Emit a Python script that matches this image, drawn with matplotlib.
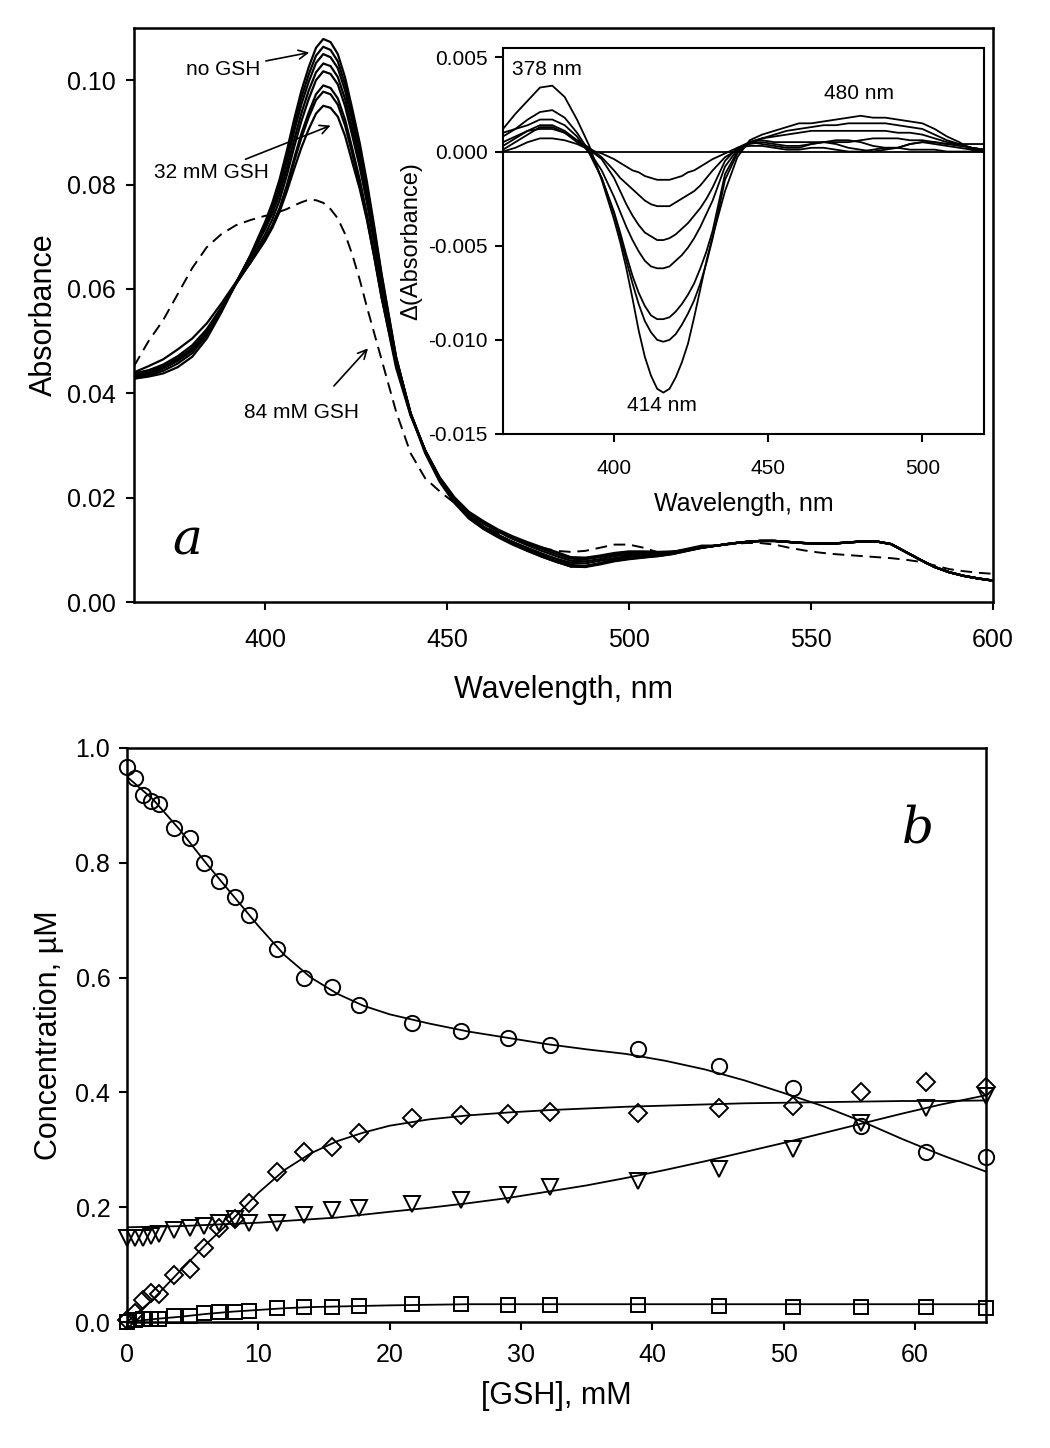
import numpy as np
import matplotlib
matplotlib.use("Agg")
import matplotlib.pyplot as plt
from matplotlib.ticker import FormatStrFormatter

plt.rcParams['font.family'] = ['Liberation Sans', 'DejaVu Sans']

# ---- panel a: absorbance spectra ----
# 4 nm steps, 2 nm steps around the Soret peak
wavelength = list(range(364, 400, 4)) + list(range(400, 432, 2)) + list(range(432, 601, 4))
wl_diff = wavelength[:48]          # inset covers 364..520 nm

# spectrum without GSH
abs_no_gsh = [0.0428, 0.0432, 0.0438, 0.0450, 0.0470, 0.0505, 0.0555, 0.0610, 0.0665,
              0.0728, 0.0765, 0.0810, 0.0865, 0.0925, 0.0980, 0.1025, 0.1062, 0.1079, 0.1073,
              0.1050, 0.1005, 0.0944, 0.0880, 0.0805, 0.0720,
              0.0630, 0.0470, 0.0360, 0.0285, 0.0230, 0.0190, 0.0160, 0.0140, 0.0124, 0.0110,
              0.0098, 0.0087, 0.0077, 0.0068, 0.0067, 0.0072, 0.0078, 0.0082, 0.0085, 0.0088,
              0.0092, 0.0098, 0.0104, 0.0108, 0.0112, 0.0115, 0.0117, 0.0117, 0.0115, 0.0113,
              0.0112, 0.0112, 0.0114, 0.0116, 0.0116, 0.0111, 0.0096, 0.0081, 0.0067, 0.0057,
              0.0050, 0.0045, 0.0041]

# 84 mM GSH (dashed)
abs_84mm = [0.0452, 0.0500, 0.0540, 0.0590, 0.0640, 0.0680, 0.0705, 0.0722, 0.0732,
            0.0740, 0.0743, 0.0748, 0.0753, 0.0760, 0.0766, 0.0771, 0.0770, 0.0765, 0.0753,
            0.0735, 0.0705, 0.0665, 0.0618, 0.0565, 0.0515,
            0.0465, 0.0365, 0.0285, 0.0237, 0.0212, 0.0190, 0.0166, 0.0145, 0.0132, 0.0122,
            0.0112, 0.0104, 0.0098, 0.0096, 0.0098, 0.0104, 0.0110, 0.0110, 0.0104, 0.0095,
            0.0095, 0.0100, 0.0104, 0.0108, 0.0111, 0.0113, 0.0113, 0.0110, 0.0104, 0.0099,
            0.0095, 0.0092, 0.0090, 0.0088, 0.0086, 0.0084, 0.0081, 0.0077, 0.0070, 0.0063,
            0.0059, 0.0056, 0.0054]

# difference spectra vs. no GSH (inset)
diff_1 = [0.0000, 0.0002, 0.0005, 0.0007, 0.0007, 0.0006, 0.0004, 0.0001, -0.0001,
          -0.0004, -0.0006, -0.0008, -0.0010, -0.0011, -0.0013, -0.0014, -0.0015, -0.0015, -0.0015,
          -0.0014, -0.0013, -0.0011, -0.0010, -0.0008, -0.0006,
          -0.0004, -0.0001, 0.0002, 0.0003, 0.0003, 0.0002, 0.0001, 0.0001, 0.0002, 0.0002,
          0.0001, 0.0000, 0.0000, 0.0001, 0.0002, 0.0002, 0.0001, 0.0001, 0.0001, 0.0000,
          0.0000, 0.0000, 0.0000]
diff_2 = [0.0005, 0.0008, 0.0011, 0.0012, 0.0012, 0.0010, 0.0006, 0.0002, -0.0003,
          -0.0010, -0.0014, -0.0017, -0.0020, -0.0023, -0.0026, -0.0028, -0.0029, -0.0029, -0.0029,
          -0.0027, -0.0025, -0.0023, -0.0021, -0.0018, -0.0014,
          -0.0010, -0.0003, 0.0001, 0.0004, 0.0005, 0.0004, 0.0003, 0.0003, 0.0004, 0.0005,
          0.0004, 0.0002, 0.0001, 0.0000, 0.0001, 0.0002, 0.0004, 0.0005, 0.0004, 0.0003,
          0.0002, 0.0001, 0.0000]
diff_3 = [0.0001, 0.0005, 0.0009, 0.0013, 0.0013, 0.0010, 0.0005, 0.0001, -0.0004,
          -0.0014, -0.0021, -0.0028, -0.0034, -0.0039, -0.0043, -0.0045, -0.0047, -0.0047, -0.0046,
          -0.0044, -0.0041, -0.0038, -0.0034, -0.0030, -0.0025,
          -0.0019, -0.0005, 0.0002, 0.0005, 0.0004, 0.0003, 0.0002, 0.0002, 0.0004, 0.0005,
          0.0006, 0.0006, 0.0005, 0.0003, 0.0002, 0.0002, 0.0004, 0.0005, 0.0005, 0.0004,
          0.0004, 0.0004, 0.0004]
diff_4 = [0.0003, 0.0007, 0.0011, 0.0014, 0.0014, 0.0011, 0.0006, 0.0000, -0.0010,
          -0.0024, -0.0032, -0.0040, -0.0047, -0.0053, -0.0058, -0.0061, -0.0062, -0.0062, -0.0061,
          -0.0058, -0.0055, -0.0051, -0.0046, -0.0040, -0.0033,
          -0.0026, -0.0008, 0.0001, 0.0005, 0.0006, 0.0005, 0.0005, 0.0005, 0.0005, 0.0005,
          0.0005, 0.0005, 0.0006, 0.0007, 0.0007, 0.0007, 0.0006, 0.0006, 0.0005, 0.0004,
          0.0003, 0.0002, 0.0001]
diff_5 = [0.0010, 0.0012, 0.0014, 0.0017, 0.0017, 0.0014, 0.0008, -0.0001, -0.0014,
          -0.0032, -0.0043, -0.0055, -0.0066, -0.0075, -0.0082, -0.0087, -0.0089, -0.0089, -0.0088,
          -0.0085, -0.0081, -0.0076, -0.0070, -0.0062, -0.0053,
          -0.0042, -0.0012, 0.0000, 0.0005, 0.0007, 0.0008, 0.0009, 0.0010, 0.0011, 0.0011,
          0.0011, 0.0011, 0.0011, 0.0011, 0.0011, 0.0010, 0.0010, 0.0009, 0.0007, 0.0005,
          0.0004, 0.0002, 0.0001]
diff_6 = [0.0008, 0.0012, 0.0017, 0.0021, 0.0022, 0.0018, 0.0010, 0.0000, -0.0014,
          -0.0033, -0.0045, -0.0058, -0.0070, -0.0081, -0.0090, -0.0096, -0.0100, -0.0101, -0.0100,
          -0.0097, -0.0092, -0.0086, -0.0079, -0.0070, -0.0059,
          -0.0046, -0.0015, -0.0001, 0.0005, 0.0007, 0.0009, 0.0011, 0.0012, 0.0013, 0.0014,
          0.0014, 0.0015, 0.0015, 0.0015, 0.0015, 0.0014, 0.0013, 0.0012, 0.0009, 0.0006,
          0.0004, 0.0002, 0.0001]
diff_7 = [0.0012, 0.0020, 0.0027, 0.0034, 0.0035, 0.0029, 0.0017, 0.0003, -0.0015,
          -0.0036, -0.0048, -0.0062, -0.0078, -0.0095, -0.0109, -0.0119, -0.0126, -0.0128, -0.0126,
          -0.0120, -0.0112, -0.0102, -0.0088, -0.0073, -0.0058,
          -0.0045, -0.0021, -0.0003, 0.0006, 0.0009, 0.0011, 0.0013, 0.0015, 0.0015, 0.0016,
          0.0017, 0.0018, 0.0019, 0.0018, 0.0018, 0.0017, 0.0016, 0.0015, 0.0012, 0.0008,
          0.0005, 0.0001, 0.0000]
diffs = [diff_1, diff_2, diff_3, diff_4, diff_5, diff_6, diff_7]

# ---- panel b: species concentrations vs [GSH] ----
gsh = [0, 0.6, 1.2, 1.8, 2.4, 3.6, 4.8, 5.9, 7.0, 8.2, 9.3, 11.4, 13.5, 15.6, 17.7,
       21.7, 25.4, 29.0, 32.2, 38.9, 45.1, 50.7, 55.9, 60.8, 65.4]
conc_circle = [0.967, 0.947, 0.918, 0.907, 0.903, 0.861, 0.843, 0.800, 0.769, 0.740, 0.709,
               0.650, 0.600, 0.583, 0.553, 0.521, 0.507, 0.495, 0.483, 0.475, 0.446, 0.408,
               0.341, 0.297, 0.288]
conc_diamond = [0.003, 0.015, 0.039, 0.050, 0.049, 0.082, 0.093, 0.129, 0.163, 0.180, 0.208,
                0.262, 0.297, 0.305, 0.330, 0.355, 0.360, 0.363, 0.366, 0.364, 0.373, 0.377,
                0.400, 0.418, 0.410]
conc_triangle = [0.147, 0.147, 0.147, 0.150, 0.153, 0.161, 0.163, 0.168, 0.172, 0.180, 0.172,
                 0.172, 0.187, 0.195, 0.199, 0.205, 0.213, 0.221, 0.235, 0.245, 0.266, 0.302,
                 0.346, 0.373, 0.393]
conc_square = [0.000, 0.003, 0.005, 0.005, 0.005, 0.010, 0.011, 0.015, 0.017, 0.018, 0.020,
               0.025, 0.027, 0.027, 0.028, 0.031, 0.031, 0.030, 0.030, 0.029, 0.028, 0.027,
               0.026, 0.026, 0.024]

gsh_fit = [0, 2, 4, 6, 8, 10, 12, 14, 16, 18, 20, 23, 26, 29, 32, 35, 38, 41, 44, 47,
           50, 53, 56, 59, 62, 65.4]
fit_circle = [0.950, 0.910, 0.858, 0.800, 0.745, 0.690, 0.639, 0.600, 0.572, 0.551, 0.536,
              0.520, 0.506, 0.495, 0.484, 0.475, 0.467, 0.455, 0.440, 0.421, 0.399, 0.376,
              0.349, 0.319, 0.291, 0.262]
fit_diamond = [0.000, 0.040, 0.088, 0.135, 0.178, 0.225, 0.265, 0.294, 0.315, 0.330, 0.342,
               0.353, 0.360, 0.365, 0.369, 0.372, 0.375, 0.377, 0.379, 0.381, 0.382, 0.383,
               0.384, 0.385, 0.385, 0.386]
fit_triangle = [0.165, 0.166, 0.167, 0.169, 0.171, 0.173, 0.176, 0.179, 0.182, 0.187, 0.192,
                0.199, 0.207, 0.216, 0.227, 0.238, 0.251, 0.265, 0.280, 0.296, 0.312, 0.329,
                0.346, 0.363, 0.379, 0.395]
fit_square = [0.000, 0.005, 0.009, 0.014, 0.018, 0.021, 0.024, 0.026, 0.027, 0.028, 0.029,
              0.030, 0.031, 0.031, 0.031, 0.031, 0.031, 0.031, 0.031, 0.031, 0.031, 0.031,
              0.031, 0.031, 0.031, 0.031]


def style_axis(ax, size, xpad, ypad, spine_lw=1.8):
    ax.tick_params(direction='out', length=6, width=1.5, labelsize=size)
    ax.tick_params(axis='x', pad=xpad)
    ax.tick_params(axis='y', pad=ypad)
    for sp in ax.spines.values():
        sp.set_linewidth(spine_lw)


fig = plt.figure(figsize=(10.5, 14.48), dpi=100)

# panel a
ax_a = fig.add_axes([134 / 1050, 1 - 602 / 1448, 859 / 1050, 574 / 1448])
base = np.array(abs_no_gsh)
ax_a.plot(wavelength, base, color='black', lw=1.6)
for d in diffs:
    d_full = np.concatenate([d, np.zeros(len(wavelength) - len(d))])
    ax_a.plot(wavelength, base + d_full, color='black', lw=1.6)
ax_a.plot(wavelength, abs_84mm, color='black', lw=1.4, ls=(0, (6, 3.5)))
ax_a.set_xlim(364, 600)
ax_a.set_ylim(0, 0.11)
ax_a.set_xticks([400, 450, 500, 550, 600])
ax_a.set_yticks([0, 0.02, 0.04, 0.06, 0.08, 0.10])
ax_a.yaxis.set_major_formatter(FormatStrFormatter('%.2f'))
style_axis(ax_a, 18, xpad=13, ypad=7)
ax_a.set_xlabel('Wavelength, nm', fontsize=22, labelpad=16)
ax_a.set_ylabel('Absorbance', fontsize=22, labelpad=6)

arrow = dict(arrowstyle='->', lw=1.2, color='black', mutation_scale=16)
ax_a.annotate('no GSH', xy=(412.9, 0.1054), xytext=(388.5, 0.1021), fontsize=15,
              ha='center', va='center', arrowprops=arrow)
ax_a.annotate('32 mM GSH', xy=(418.7, 0.0915), xytext=(385.4, 0.0823), fontsize=15,
              ha='center', va='center', arrowprops=arrow)
ax_a.annotate('', xy=(428.8, 0.049), xytext=(418.4, 0.041), arrowprops=arrow)
ax_a.text(409.9, 0.0363, '84 mM GSH', fontsize=15, ha='center', va='center')
ax_a.text(378.5, 0.0118, 'a', fontsize=36, family='DejaVu Serif', style='italic',
          ha='center', va='center')

# inset
ax_in = fig.add_axes([503 / 1050, 1 - 434 / 1448, 481 / 1050, 386 / 1448])
ax_in.plot([364, 520], [0, 0], color='black', lw=1.3)
for d in diffs:
    ax_in.plot(wl_diff, d, color='black', lw=1.3)
ax_in.set_xlim(364, 520)
ax_in.set_ylim(-0.015, 0.0055)
ax_in.set_xticks([400, 450, 500])
ax_in.set_yticks([-0.015, -0.010, -0.005, 0.000, 0.005])
ax_in.yaxis.set_major_formatter(FormatStrFormatter('%.3f'))
style_axis(ax_in, 15, xpad=12, ypad=5, spine_lw=1.5)
ax_in.set_xlabel('Wavelength, nm', fontsize=18, labelpad=10)
ax_in.set_ylabel('\u0394(Absorbance)', fontsize=17, labelpad=4)
ax_in.text(378.3, 0.00436, '378 nm', fontsize=15, ha='center', va='center')
ax_in.text(479.6, 0.0031, '480 nm', fontsize=15, ha='center', va='center')
ax_in.text(415.5, -0.0135, '414 nm', fontsize=15, ha='center', va='center')

# panel b
ax_b = fig.add_axes([127 / 1050, 1 - 1322 / 1448, 859 / 1050, 574 / 1448])
for fit in (fit_circle, fit_diamond, fit_triangle, fit_square):
    ax_b.plot(gsh_fit, fit, color='black', lw=1.3)
mk = dict(ls='none', mfc='none', mec='black', mew=1.4, clip_on=False)
ax_b.plot(gsh, conc_circle, marker='o', ms=11, **mk)
ax_b.plot(gsh, conc_diamond, marker='D', ms=9.5, **mk)
ax_b.plot(gsh, conc_triangle, marker='v', ms=11, **mk)
ax_b.plot(gsh, conc_square, marker='s', ms=10, **mk)
ax_b.set_xlim(0, 65.4)
ax_b.set_ylim(0, 1.0)
ax_b.set_xticks([0, 10, 20, 30, 40, 50, 60])
ax_b.set_yticks([0, 0.2, 0.4, 0.6, 0.8, 1.0])
ax_b.yaxis.set_major_formatter(FormatStrFormatter('%.1f'))
style_axis(ax_b, 18, xpad=9, ypad=6)
ax_b.set_xlabel('[GSH], mM', fontsize=22, labelpad=10)
ax_b.set_ylabel('Concentration, \u00b5M', fontsize=22, labelpad=8)
ax_b.text(60.2, 0.86, 'b', fontsize=36, family='DejaVu Serif', style='italic',
          ha='center', va='center')

fig.savefig('out.png', dpi=100)
